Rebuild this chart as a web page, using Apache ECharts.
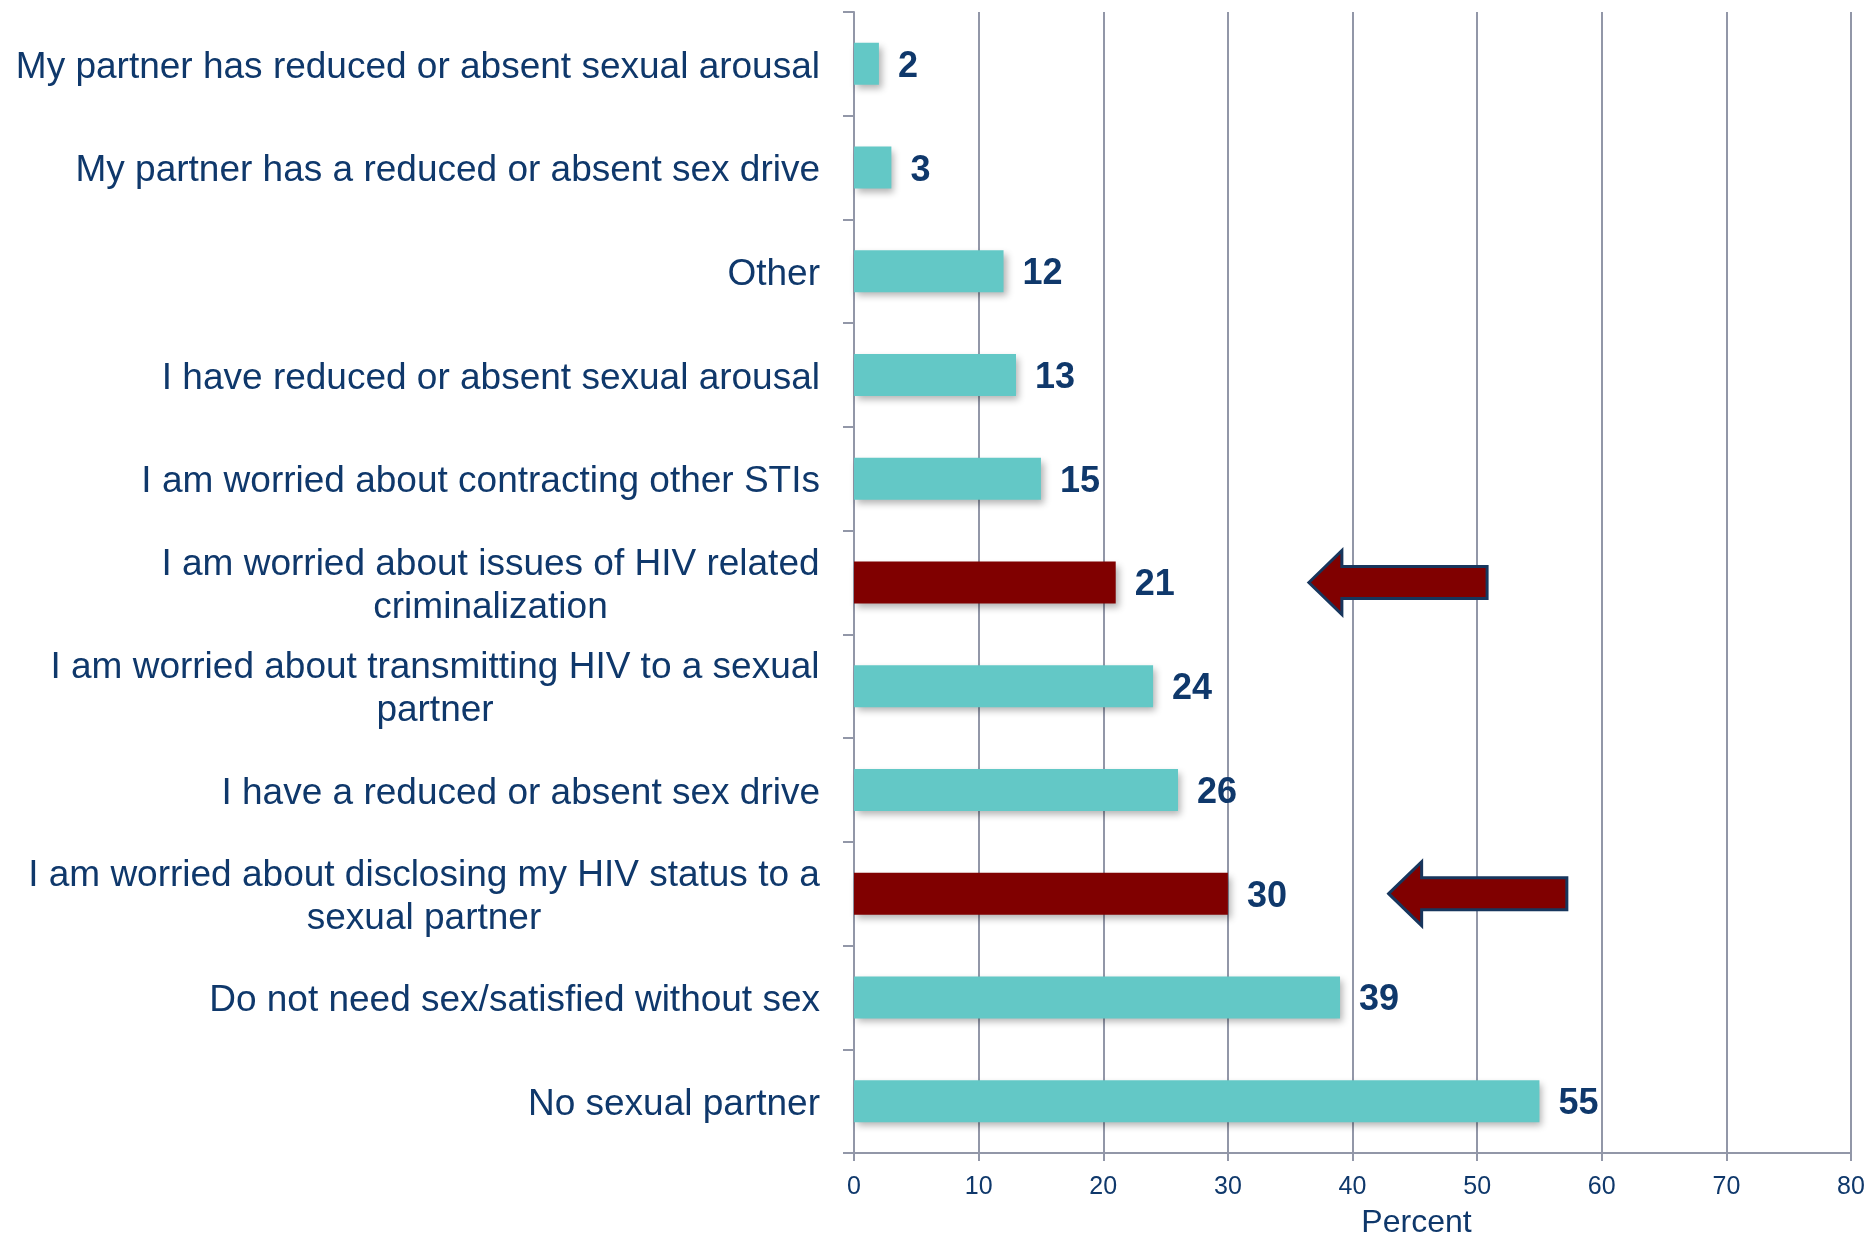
<!DOCTYPE html>
<html>
<head>
<meta charset="utf-8">
<script src="https://cdn.jsdelivr.net/npm/echarts@6/dist/echarts.min.js"></script>
<style>
  html, body { margin: 0; padding: 0; background: #fff; }
  #chart { width: 1870px; height: 1235px; }
</style>
</head>
<body>
<div id="chart"></div>
<script>
// reasons, top to bottom
const categories = [
  'My partner has reduced or absent sexual arousal',
  'My partner has a reduced or absent sex drive',
  'Other',
  'I have reduced or absent sexual arousal',
  'I am worried about contracting other STIs',
  'I am worried about issues of HIV related\ncriminalization',
  'I am worried about transmitting HIV to a sexual\npartner',
  'I have a reduced or absent sex drive',
  'I am worried about disclosing my HIV status to a\nsexual partner',
  'Do not need sex/satisfied without sex',
  'No sexual partner',
];
const values = [2, 3, 12, 13, 15, 21, 24, 26, 30, 39, 55];
const highlighted = [5, 8];
// arrows: category index, tip value, tail value
const arrows = [
  { cat: 5, tip: 36.5, tail: 50.8 },
  { cat: 8, tip: 42.9, tail: 57.2 },
];

const navy = '#0F386B';
const teal = '#63C8C6';
const maroon = '#800000';
const grey = '#9297A8';
const labelFont = '"Liberation Sans", Arial, sans-serif';
const labelSize = 37;

const ctx = document.createElement('canvas').getContext('2d');
ctx.font = labelSize + 'px ' + labelFont;

// one rich style per wrapped label so each block centres its own lines
const rich = {};
const richKey = {};
categories.forEach((c, i) => {
  if (!c.includes('\n')) return;
  const w = Math.max(...c.split('\n').map((l) => ctx.measureText(l).width));
  const key = 'm' + i;
  richKey[c] = key;
  rich[key] = {
    width: Math.ceil(w),
    align: 'center',
    color: navy,
    fontSize: labelSize,
    fontFamily: labelFont,
    lineHeight: 43,
  };
});

const chart = echarts.init(document.getElementById('chart'));

const option = {
  animation: false,
  grid: { left: 854, right: 19, top: 12, bottom: 82, outerBoundsMode: 'none' },
  xAxis: {
    type: 'value',
    min: 0,
    max: 80,
    interval: 10,
    name: 'Percent',
    nameLocation: 'middle',
    nameGap: 54,
    nameTextStyle: { color: navy, fontSize: 32, fontFamily: labelFont, padding: [0, 0, 0, 128] },
    axisLine: { show: true, lineStyle: { color: grey, width: 2 } },
    axisTick: { show: true, length: 8, lineStyle: { color: grey, width: 2 } },
    axisLabel: { color: navy, fontSize: 25, fontFamily: labelFont, margin: 22 },
    splitLine: { show: true, lineStyle: { color: grey, width: 2 } },
  },
  yAxis: {
    type: 'category',
    inverse: true,
    data: categories,
    axisLine: { show: true, lineStyle: { color: grey, width: 2 } },
    axisTick: { show: true, length: 11, lineStyle: { color: grey, width: 2 } },
    axisLabel: {
      color: navy,
      fontSize: labelSize,
      fontFamily: labelFont,
      margin: 34,
      lineHeight: 43,
      padding: [7, 0, 0, 0],
      formatter(v) {
        const key = richKey[v];
        if (!key) return v;
        return v.split('\n').map((l) => '{' + key + '|' + l + '}').join('\n');
      },
      rich,
    },
  },
  series: [
    {
      type: 'bar',
      barWidth: 42,
      data: values.map((v, i) => ({
        value: v,
        itemStyle: { color: highlighted.includes(i) ? maroon : teal },
      })),
      itemStyle: {
        shadowColor: 'rgba(0,0,0,0.3)',
        shadowBlur: 7,
        shadowOffsetX: 3,
        shadowOffsetY: 4,
      },
      label: {
        show: true,
        position: 'right',
        distance: 19,
        offset: [0, 3],
        color: navy,
        fontSize: 36,
        fontWeight: 'bold',
        fontFamily: labelFont,
      },
    },
  ],
};

chart.setOption(option);

const drawArrows = () => {
  const elements = arrows.map((a) => {
    const tip = chart.convertToPixel({ xAxisIndex: 0, yAxisIndex: 0 }, [a.tip, a.cat]);
    const tail = chart.convertToPixel({ xAxisIndex: 0, yAxisIndex: 0 }, [a.tail, a.cat]);
    const y = tip[1];
    const headLen = 33;
    const headH = 32;
    const shaftH = 16;
    return {
      type: 'polygon',
      shape: {
        points: [
          [tip[0], y],
          [tip[0] + headLen, y - headH],
          [tip[0] + headLen, y - shaftH],
          [tail[0], y - shaftH],
          [tail[0], y + shaftH],
          [tip[0] + headLen, y + shaftH],
          [tip[0] + headLen, y + headH],
        ],
      },
      style: { fill: maroon, stroke: '#17365D', lineWidth: 3 },
      z: 10,
    };
  });
  chart.setOption({ graphic: elements });
};
drawArrows();
</script>
</body>
</html>
